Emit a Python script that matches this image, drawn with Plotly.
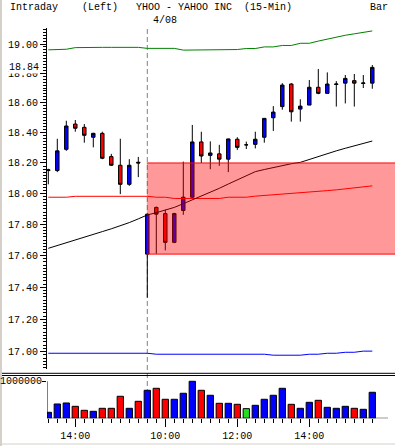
import math
import plotly.graph_objects as go

W, H = 395, 446

# ---------------- data ----------------
bar_index = list(range(37))
opens  = [18.150, 18.150, 18.290, 18.458, 18.436, 18.370, 18.396, 18.242, 18.185, 18.060, 18.205,
          17.610, 17.910, 17.870, 17.685, 17.890, 17.976, 18.339, 18.250, 18.260, 18.225, 18.357,
          18.320, 18.323, 18.370, 18.500, 18.575, 18.727, 18.558, 18.585, 18.705, 18.664, 18.724,
          18.733, 18.750, 18.731, 18.733]
highs  = [18.162, 18.360, 18.480, 18.485, 18.458, 18.400, 18.407, 18.260, 18.360, 18.225, 18.240,
          17.870, 17.915, 17.895, 17.875, 18.209, 18.452, 18.407, 18.343, 18.320, 18.360, 18.370,
          18.341, 18.407, 18.496, 18.578, 18.733, 18.733, 18.624, 18.754, 18.829, 18.806, 18.747,
          18.788, 18.795, 18.788, 18.856]
lows   = [18.060, 18.140, 18.280, 18.407, 18.334, 18.303, 18.225, 18.180, 17.996, 18.050, 18.107,
          17.335, 17.612, 17.634, 17.680, 17.862, 17.970, 18.200, 18.159, 18.181, 18.140, 18.286,
          18.292, 18.296, 18.334, 18.412, 18.554, 18.474, 18.474, 18.585, 18.658, 18.664, 18.575,
          18.596, 18.575, 18.700, 18.695]
closes = [18.155, 18.280, 18.445, 18.430, 18.383, 18.396, 18.231, 18.185, 18.060, 18.185, 18.200,
          17.866, 17.866, 17.685, 17.870, 17.976, 18.339, 18.246, 18.266, 18.225, 18.359, 18.303,
          18.320, 18.357, 18.496, 18.538, 18.720, 18.540, 18.578, 18.705, 18.664, 18.727, 18.727,
          18.765, 18.733, 18.734, 18.840]
volumes = [162000, 387000, 414000, 324000, 216000, 189000, 270000, 270000, 595000, 270000, 459000,
           757000, 811000, 514000, 514000, 676000, 1000000, 757000, 622000, 405000, 405000, 378000,
           261000, 351000, 514000, 622000, 811000, 378000, 270000, 432000, 486000, 297000, 270000,
           324000, 270000, 243000, 703000]

upper_band = [18.960, 18.962, 18.964, 18.975, 18.977, 18.977, 18.977, 18.977, 18.977, 18.977, 18.977,
              18.970, 18.970, 18.970, 18.970, 18.958, 18.958, 18.958, 18.962, 18.962, 18.962, 18.962,
              18.969, 18.969, 18.980, 18.980, 18.990, 18.990, 19.005, 19.005, 19.020, 19.035, 19.050,
              19.060, 19.070, 19.080, 19.090]
mid_line = [17.976, 17.976, 17.976, 17.982, 17.982, 17.982, 17.982, 17.982, 17.982, 17.982, 17.982,
            17.982, 17.976, 17.976, 17.968, 17.968, 17.968, 17.968, 17.968, 17.968, 17.976, 17.976,
            17.976, 17.983, 17.987, 17.991, 17.995, 17.999, 18.004, 18.009, 18.014, 18.019, 18.024,
            18.030, 18.036, 18.043, 18.050]
avg_line = [17.647, 17.664, 17.682, 17.700, 17.718, 17.736, 17.754, 17.772, 17.790, 17.812, 17.836,
            17.861, 17.876, 17.892, 17.910, 17.934, 17.958, 17.982, 18.008, 18.034, 18.062, 18.090,
            18.117, 18.143, 18.157, 18.171, 18.184, 18.195, 18.204, 18.224, 18.245, 18.264, 18.280,
            18.297, 18.313, 18.330, 18.345]
lower_band = [16.990] * 12 + [16.984] * 13 + [16.978] * 4 + [16.984] * 2 + [16.990] * 2 + [16.996] * 2 + [17.003] * 2

price_ticks = [17.00, 17.20, 17.40, 17.60, 17.80, 18.00, 18.20, 18.40, 18.60, 18.80, 19.00]
time_tick_pos = [3, 13, 21, 29]
time_tick_labels = ["14:00", "10:00", "12:00", "14:00"]
day_break = 11
last_price = 18.84
vol_tick = 1000000

# ---------------- geometry helpers ----------------
def px_x(p):
    return p / W

def px_y(p):
    return 1 - p / H

X0 = -0.144
X1 = X0 + (W - 47) / 9.0
Y_TOP_LOG = 1.281266
Y_BOT_LOG = 1.227721
VOL_TOP = 1143000

FONT = "Liberation Mono"
BLUE = "#0000FF"
RED = "#FF0000"
GREEN = "#22DD22"

vol_colors = []
for o, c in zip(opens, closes):
    if c > o:
        vol_colors.append(BLUE)
    elif c < o:
        vol_colors.append(RED)
    else:
        vol_colors.append(GREEN)

fig = go.Figure()

fig.add_trace(go.Candlestick(
    x=bar_index, open=opens, high=highs, low=lows, close=closes,
    increasing=dict(line=dict(color="black", width=1), fillcolor=BLUE),
    decreasing=dict(line=dict(color="black", width=1), fillcolor=RED),
    whiskerwidth=0, xaxis="x", yaxis="y", showlegend=False, hoverinfo="skip"))

for vals, col in [(upper_band, "#008000"), (mid_line, RED), (avg_line, "black"), (lower_band, BLUE)]:
    fig.add_trace(go.Scatter(x=bar_index, y=vals, mode="lines",
                             line=dict(color=col, width=1), xaxis="x", yaxis="y",
                             showlegend=False, hoverinfo="skip"))

fig.add_trace(go.Bar(x=bar_index, y=volumes, width=0.7,
                     marker=dict(color=vol_colors, line=dict(color="black", width=1)),
                     xaxis="x2", yaxis="y2", showlegend=False, hoverinfo="skip"))

axis_font = dict(family=FONT, size=10, color="black")

fig.update_layout(
    width=W, height=H,
    margin=dict(l=0, r=0, t=0, b=0),
    paper_bgcolor="white", plot_bgcolor="white",
    font=axis_font,
    boxgap=0.45,
    xaxis=dict(domain=[px_x(47), 1], range=[X0, X1], anchor="y",
               showticklabels=False, ticks="", showgrid=False, zeroline=False,
               showline=False, rangeslider=dict(visible=False)),
    yaxis=dict(domain=[px_y(369), px_y(28)], type="log", range=[Y_BOT_LOG, Y_TOP_LOG],
               tickmode="array", tickvals=price_ticks,
               ticktext=["%.2f" % v for v in price_ticks],
               ticks="outside", ticklen=6, tickcolor="black", tickwidth=1,
               showline=True, linecolor="black", linewidth=1,
               showgrid=False, zeroline=False, automargin=False,
               minor=dict(tickmode="array",
                          tickvals=[round(16.90 + 0.02 * k, 2) for k in range(111)],
                          ticks="outside", ticklen=3, tickcolor="black", showgrid=False)),
    xaxis2=dict(domain=[px_x(47), 1], range=[X0, X1], anchor="y2",
                tickmode="array", tickvals=time_tick_pos, ticktext=time_tick_labels,
                ticks="outside", ticklen=8, tickcolor="black", tickwidth=1,
                showline=False, showgrid=False, zeroline=False, automargin=False,
                minor=dict(tickmode="array", tickvals=bar_index, ticks="outside",
                           ticklen=4, tickcolor="black", showgrid=False)),
    yaxis2=dict(domain=[px_y(418.3), px_y(376)], range=[0, VOL_TOP], anchor="x2",
                tickmode="array", tickvals=[vol_tick], ticktext=[""],
                ticks="outside", ticklen=4, tickcolor="black",
                showline=False, showgrid=False, zeroline=False, automargin=False),
)

shapes = []
gap_lo = opens[day_break]
gap_hi = closes[day_break - 1]
shapes.append(dict(type="line", xref="x", yref="paper", x0=day_break, x1=day_break,
                   y0=px_y(418), y1=px_y(29), line=dict(color="#808080", width=1, dash="5px,3px"),
                   layer="below"))
shapes.append(dict(type="rect", xref="x", yref="y", x0=day_break - 0.05, x1=X1,
                   y0=gap_lo, y1=gap_hi, fillcolor="rgba(255,0,0,0.40)",
                   line=dict(width=0), layer="above"))
for yv in (gap_lo, gap_hi):
    shapes.append(dict(type="line", xref="x", yref="y", x0=day_break - 0.05, x1=X1,
                       y0=yv, y1=yv, line=dict(color=RED, width=1), layer="above"))
for yp in (373.3, 375.5):
    shapes.append(dict(type="line", xref="paper", yref="paper", x0=0, x1=1,
                       y0=px_y(yp), y1=px_y(yp), line=dict(color="black", width=1)))
shapes.append(dict(type="line", xref="x2", yref="y2", x0=X0, x1=X0, y0=0, y1=vol_tick,
                   line=dict(color="black", width=1)))
shapes.append(dict(type="line", xref="x2", yref="y2", x0=X0, x1=X0 + (388 - 47) / 9.0,
                   y0=0, y1=0, line=dict(color="black", width=1)))
shapes.append(dict(type="rect", xref="paper", yref="paper", x0=0, x1=px_x(2), y0=0, y1=1,
                   fillcolor="#D4D0C8", line=dict(width=0)))
shapes.append(dict(type="line", xref="paper", yref="paper", x0=px_x(2), x1=1,
                   y0=px_y(444), y1=px_y(444), line=dict(color="#D4D0C8", width=1)))
fig.update_layout(shapes=shapes)

ann = []
def header(text, xpx, ypx):
    ann.append(dict(text=text, xref="paper", yref="paper", x=px_x(xpx), y=px_y(ypx),
                    xanchor="left", yanchor="middle", showarrow=False,
                    font=dict(family=FONT, size=10, color="black"), borderpad=0))

header("Intraday", 9, 7)
header("(Left)", 81, 7)
header("YHOO - YAHOO INC \u00a0(15-Min)", 135, 7)
header("Bar", 369, 7)
header("4/08", 152, 20)
ann.append(dict(text=str(vol_tick), xref="paper", yref="y2", x=px_x(42.5), y=vol_tick,
                xanchor="right", yanchor="middle", showarrow=False, borderpad=0,
                font=dict(family=FONT, size=10, color="black")))
ann.append(dict(text="%.2f" % last_price, xref="paper", yref="y", x=px_x(40),
                y=math.log10(last_price), xanchor="right", yanchor="middle",
                showarrow=False, bgcolor="white", borderpad=0,
                font=dict(family=FONT, size=10, color="black")))
fig.update_layout(annotations=ann)

fig.write_html("out.html", config={"displayModeBar": False},
               post_script="document.body.style.margin='0';document.body.style.padding='0';")
